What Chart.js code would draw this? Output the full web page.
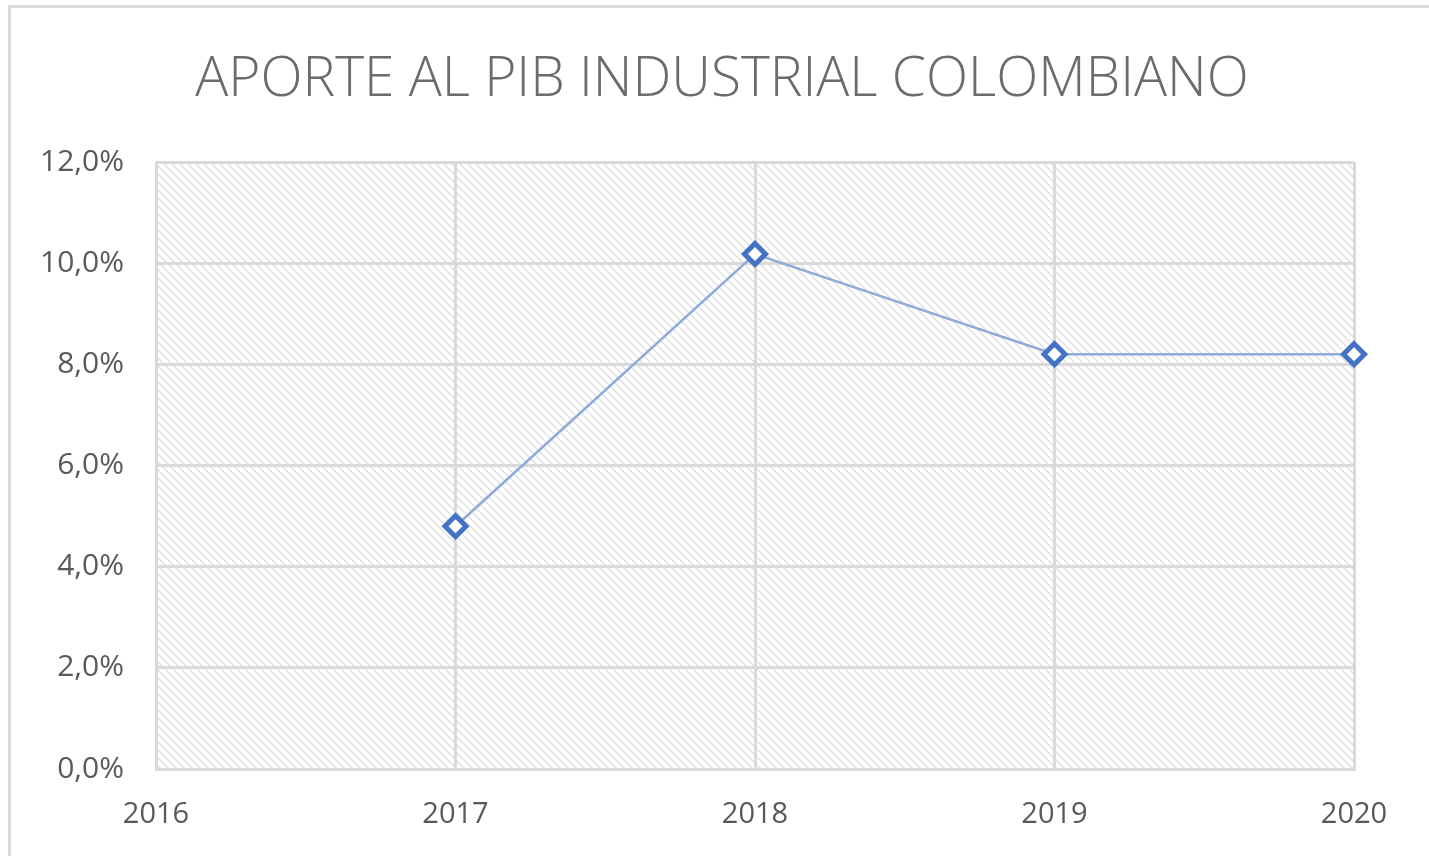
<!DOCTYPE html>
<html>
<head>
<meta charset="utf-8">
<script src="https://cdn.jsdelivr.net/npm/chart.js@4.4.1/dist/chart.umd.min.js"></script>
<style>
  html, body { margin: 0; padding: 0; background: #fff; overflow: hidden; }
  #wrap { position: absolute; left: 0; top: 0; width: 1429px; height: 856px; }
  #frame { position: absolute; left: 8px; top: 5px; width: 1440px; height: 880px; border: 3px solid #d9d9d9; box-sizing: border-box; pointer-events: none; }
</style>
</head>
<body>
<div id="wrap"><canvas id="c" width="1429" height="856"></canvas></div>
<div id="frame"></div>
<script>
const chartTitle = 'APORTE AL PIB INDUSTRIAL COLOMBIANO';
const years = [2017, 2018, 2019, 2020];
const aporte = [4.8, 10.18, 8.2, 8.2];
const xMin = 2016, xMax = 2020;
const yMin = 0, yMax = 12, yStep = 2;

const font = "'Open Sans', 'Liberation Sans', sans-serif";

function makeHatch(ctx) {
  const p = document.createElement('canvas');
  p.width = 8; p.height = 8;
  const g = p.getContext('2d');
  g.fillStyle = '#ffffff';
  g.fillRect(0, 0, 8, 8);
  g.strokeStyle = '#dedede';
  g.lineWidth = 1.3;
  g.beginPath();
  g.moveTo(-2, -2); g.lineTo(10, 10);
  g.moveTo(-2, 6); g.lineTo(2, 10);
  g.moveTo(6, -2); g.lineTo(10, 2);
  g.stroke();
  return ctx.createPattern(p, 'repeat');
}

const hatchPlugin = {
  id: 'hatch',
  beforeDraw(chart) {
    const { ctx, chartArea: a } = chart;
    ctx.save();
    ctx.fillStyle = makeHatch(ctx);
    ctx.fillRect(a.left, a.top, a.right - a.left, a.bottom - a.top);
    ctx.restore();
  }
};

const titlePlugin = {
  id: 'centerTitle',
  afterDraw(chart) {
    const { ctx } = chart;
    ctx.save();
    ctx.font = "300 55px " + font;
    ctx.fillStyle = '#6b6b6b';
    ctx.textAlign = 'center';
    ctx.textBaseline = 'middle';
    ctx.fillText(chartTitle, 722, 80);
    ctx.restore();
  }
};

new Chart(document.getElementById('c'), {
  type: 'line',
  data: {
    datasets: [{
      data: years.map((y, i) => ({ x: y, y: aporte[i] })),
      borderColor: '#8eaadb',
      borderWidth: 2.5,
      pointStyle: 'rectRot',
      pointRadius: 10.5,
      pointHoverRadius: 10.5,
      pointBorderWidth: 5,
      pointBorderColor: '#4472c4',
      pointBackgroundColor: '#ffffff',
      tension: 0,
      clip: false
    }]
  },
  options: {
    responsive: false,
    animation: false,
    events: [],
    layout: { padding: { left: 0, right: 75, top: 162, bottom: 0 } },
    plugins: {
      legend: { display: false },
      tooltip: { enabled: false },
      title: { display: false }
    },
    scales: {
      x: {
        type: 'linear',
        min: xMin, max: xMax,
        ticks: {
          stepSize: 1,
          color: '#595959',
          font: { family: font, size: 29 },
          padding: 28,
          callback: v => String(v)
        },
        grid: { color: '#d9d9d9', lineWidth: 3, drawTicks: false },
        border: { color: '#d9d9d9', width: 3 },
        afterFit: s => { s.height = 87; }
      },
      y: {
        min: yMin, max: yMax,
        ticks: {
          stepSize: yStep,
          color: '#595959',
          font: { family: font, size: 30 },
          padding: 32,
          callback: v => v.toFixed(1).replace('.', ',') + '%'
        },
        grid: { color: '#d9d9d9', lineWidth: 3, drawTicks: false },
        border: { display: false },
        afterFit: s => { s.width = 156; }
      }
    }
  },
  plugins: [hatchPlugin, titlePlugin]
});
</script>
</body>
</html>
